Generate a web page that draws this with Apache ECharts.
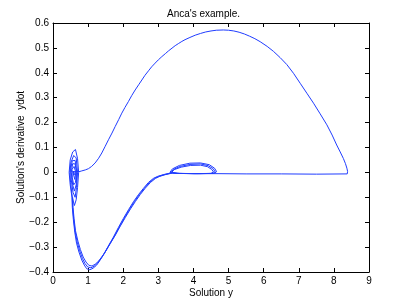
<!DOCTYPE html>
<html><head><meta charset="utf-8">
<script src="https://cdn.jsdelivr.net/npm/echarts@6/dist/echarts.min.js"></script>
<style>html,body{margin:0;padding:0;background:#fff}#c{width:407px;height:306px}</style>
</head><body><div id="c"></div>
<script>
const titleText = "Anca's example.";
const xName = "Solution y";
const yName = "Solution's derivative  ydot";
const xTicks = [0,1,2,3,4,5,6,7,8,9];
const yTicks = [-0.4,-0.3,-0.2,-0.1,0,0.1,0.2,0.3,0.4,0.5,0.6];

// big upper arc: leaving the spiral, to the right end
const arcUp = [[0.72,0.002],[0.82,0.006],[0.92,0.01],[1.01,0.015],[1.1,0.024],[1.2,0.038],[1.3,0.057],[1.39,0.078],[1.48,0.103],[1.58,0.131],[1.68,0.158],[1.77,0.184],[1.87,0.212],[1.96,0.238],[2.05,0.261],[2.15,0.285],[2.24,0.308],[2.34,0.331],[2.44,0.352],[2.53,0.371],[2.62,0.39],[2.72,0.408],[2.81,0.424],[2.91,0.439],[3.0,0.452],[3.1,0.465],[3.2,0.477],[3.29,0.488],[3.39,0.499],[3.48,0.509],[3.58,0.518],[3.67,0.526],[3.76,0.533],[3.9,0.542],[4.05,0.551],[4.2,0.558],[4.35,0.564],[4.5,0.568],[4.65,0.571],[4.85,0.572],[5.0,0.571],[5.15,0.568],[5.3,0.563],[5.45,0.556],[5.6,0.547],[5.75,0.537],[5.9,0.525],[6.1,0.506],[6.28,0.486],[6.47,0.461],[6.66,0.433],[6.85,0.398],[7.04,0.358],[7.23,0.318],[7.42,0.278],[7.61,0.235],[7.8,0.191],[7.95,0.15],[8.08,0.11],[8.18,0.082],[8.27,0.056],[8.33,0.035],[8.37,0.017],[8.39,0.004],[8.38,-0.006]];
// return along ydot ~ 0
const bottomLine = [[8.38,-0.006],[7.5,-0.007],[6.5,-0.006],[5.5,-0.006],[4.7,-0.005]];
// small bubble oscillations near x 3.3..4.7
const bubble = [[4.7,-0.005],[4.0,-0.005],[3.5,-0.004],[3.33,0.0],[3.4,0.014],[3.6,0.028],[3.9,0.037],[4.2,0.038],[4.45,0.031],[4.6,0.017],[4.66,0.003],[4.6,-0.004],[4.2,-0.005],[3.6,-0.004],[3.36,0.0],[3.43,0.012],[3.62,0.024],[3.9,0.032],[4.2,0.034],[4.42,0.027],[4.56,0.015],[4.62,0.002],[4.55,-0.004],[4.1,-0.005],[3.55,-0.004],[3.38,0.0],[3.45,0.011],[3.65,0.021],[3.92,0.028],[4.2,0.029],[4.4,0.023],[4.52,0.012],[4.57,0.002],[4.5,-0.004],[4.0,-0.005],[3.5,-0.004],[3.33,-0.003]];
// lower excursions (three close strands)
const lowerA = [[3.33,-0.003],[3.14,-0.009],[2.98,-0.016],[2.86,-0.024],[2.72,-0.04],[2.57,-0.065],[2.43,-0.09],[2.29,-0.118],[2.15,-0.15],[2.0,-0.186],[1.86,-0.222],[1.72,-0.26],[1.57,-0.297],[1.43,-0.333],[1.33,-0.355],[1.24,-0.373],[1.14,-0.385],[1.05,-0.391],[0.96,-0.387],[0.89,-0.372],[0.82,-0.352],[0.74,-0.32],[0.67,-0.284],[0.62,-0.24],[0.58,-0.19],[0.55,-0.14],[0.54,-0.1]];
const lowerB = [[3.36,-0.003],[3.17,-0.009],[3.01,-0.016],[2.89,-0.024],[2.75,-0.04],[2.6,-0.064],[2.46,-0.089],[2.32,-0.117],[2.18,-0.148],[2.03,-0.184],[1.89,-0.219],[1.75,-0.256],[1.6,-0.292],[1.46,-0.326],[1.36,-0.347],[1.27,-0.364],[1.17,-0.377],[1.08,-0.383],[0.99,-0.38],[0.91,-0.366],[0.84,-0.346],[0.76,-0.315],[0.69,-0.28],[0.63,-0.237],[0.59,-0.188],[0.56,-0.14],[0.55,-0.1]];
const lowerC = [[3.39,-0.003],[3.2,-0.009],[3.04,-0.016],[2.92,-0.024],[2.78,-0.04],[2.63,-0.063],[2.49,-0.088],[2.35,-0.116],[2.21,-0.146],[2.06,-0.181],[1.92,-0.215],[1.78,-0.251],[1.63,-0.286],[1.49,-0.319],[1.39,-0.339],[1.3,-0.356],[1.2,-0.369],[1.11,-0.376],[1.02,-0.373],[0.94,-0.36],[0.86,-0.34],[0.78,-0.31],[0.71,-0.276],[0.64,-0.234],[0.6,-0.186],[0.57,-0.14],[0.56,-0.1]];
// spiral around (0.6, 0)
const spiral = [[0.54,-0.1],[0.49,-0.05],[0.46,0.0],[0.49,0.05],[0.56,0.082],[0.64,0.092],[0.7,0.055],[0.73,0.0],[0.7,-0.06],[0.66,-0.11],[0.61,-0.133],[0.55,-0.1],[0.5,-0.04],[0.48,0.0],[0.51,0.04],[0.59,0.068],[0.66,0.058],[0.7,0.0],[0.67,-0.06],[0.63,-0.1],[0.57,-0.08],[0.52,-0.03],[0.5,0.01],[0.55,0.047],[0.63,0.048],[0.68,0.0],[0.66,-0.05],[0.61,-0.075],[0.56,-0.05],[0.52,0.0],[0.56,0.035],[0.63,0.034],[0.67,0.0],[0.64,-0.04],[0.59,-0.05],[0.55,-0.022],[0.54,0.012],[0.6,0.024],[0.65,0.0],[0.62,-0.028],[0.57,-0.02],[0.56,0.005],[0.61,0.012],[0.64,0.0],[0.6,-0.01],[0.58,0.003],[0.62,0.005],[0.67,0.002],[0.72,0.002]];

const mainPath = [].concat(arcUp, bottomLine, bubble, lowerA, spiral);
const color = '#1f3cff';
const font = 'Liberation Sans';
const chart = echarts.init(document.getElementById('c'));
const axisLine = {show:true, onZero:false, lineStyle:{color:'#000', width:1}};
const tick = {inside:true, length:4, lineStyle:{color:'#000'}};
const minus = v => (v < 0 ? '\u2212' + String(+Math.abs(v).toFixed(1)) : String(+v.toFixed(1)));
chart.setOption({
  animation:false,
  title:{text:titleText, left:'center', top:4, textStyle:{fontFamily:font, fontSize:10, fontWeight:'normal', color:'#000'}},
  grid:{left:53, right:38, top:23, bottom:34},
  xAxis:[
    {type:'value', min:0, max:9, interval:1, name:xName, nameLocation:'middle', nameGap:16, nameMoveOverlap:false,
     nameTextStyle:{fontFamily:font, fontSize:10, color:'#000'},
     axisLine, axisTick:tick, splitLine:{show:false},
     axisLabel:{fontFamily:font, fontSize:10, color:'#000', margin:4, formatter:minus}},
    {type:'value', position:'top', min:0, max:9, interval:1, axisLine, axisTick:tick, splitLine:{show:false}, axisLabel:{show:false}}
  ],
  yAxis:[
    {type:'value', min:-0.4, max:0.6, interval:0.1, name:yName, nameLocation:'middle', nameGap:27, nameMoveOverlap:false,
     nameTextStyle:{fontFamily:font, fontSize:10, color:'#000'},
     axisLine, axisTick:tick, splitLine:{show:false},
     axisLabel:{fontFamily:font, fontSize:10, color:'#000', margin:4, formatter:minus}},
    {type:'value', position:'right', min:-0.4, max:0.6, interval:0.1, axisLine, axisTick:tick, splitLine:{show:false}, axisLabel:{show:false}}
  ],
  series:[
    {type:'line', data:mainPath, showSymbol:false, lineStyle:{color, width:1}, xAxisIndex:0, yAxisIndex:0},
    {type:'line', data:lowerB, showSymbol:false, lineStyle:{color, width:1}},
    {type:'line', data:lowerC, showSymbol:false, lineStyle:{color, width:1}}
  ]
});
</script></body></html>
